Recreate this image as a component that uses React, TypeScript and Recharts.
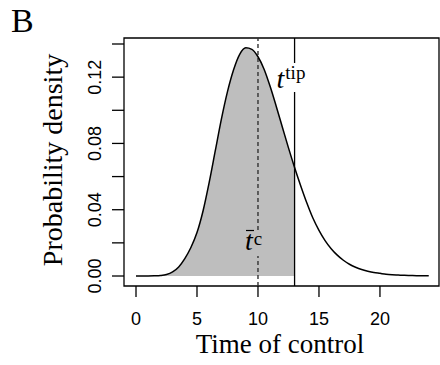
import React from 'react';
import {
  ComposedChart,
  Line,
  Area,
  XAxis,
  YAxis,
  ReferenceLine,
  ReferenceArea,
  Customized,
} from 'recharts';

// ---- data ----
const timeValues = [
  0, 0.5, 1, 1.5, 2, 2.5, 3, 3.5, 4, 4.5, 5, 5.5, 6, 6.5, 7, 7.5, 8, 8.5, 9, 9.5,
  10, 10.5, 11, 11.5, 12, 12.5, 13, 13.5, 14, 14.5, 15, 15.5, 16, 16.5, 17, 17.5,
  18, 18.5, 19, 19.5, 20, 20.5, 21, 21.5, 22, 22.5, 23, 23.5, 24,
];
const densityValues = [
  0, 0, 0, 0.0001, 0.0003, 0.0009, 0.0025, 0.0055, 0.0105, 0.0172, 0.0262, 0.0394,
  0.0565, 0.0756, 0.0947, 0.1113, 0.1245, 0.1338, 0.1377, 0.1368, 0.1323, 0.1248,
  0.1143, 0.1023, 0.0898, 0.0773, 0.0655, 0.0545, 0.0442, 0.035, 0.0276, 0.0214,
  0.0165, 0.0126, 0.0095, 0.0071, 0.0053, 0.0039, 0.0029, 0.0021, 0.0016, 0.0011,
  0.0008, 0.0006, 0.0004, 0.0003, 0.0002, 0.0002, 0.0001,
];
const tipTime = 13; // t^tip
const meanControlTime = 10; // t-bar^c
const xTicks = [0, 5, 10, 15, 20];
const yTicks = [0, 0.02, 0.04, 0.06, 0.08, 0.1, 0.12, 0.14];
const yLabelTicks = [0, 0.04, 0.08, 0.12];
const xDomain = [-0.984, 24.84];
const yDomain = [-0.00603, 0.14362];

const data = timeValues.map((t, i) => ({
  t,
  density: densityValues[i],
  shade: t <= tipTime ? densityValues[i] : null,
}));

const SANS = 'Liberation Sans, Arial, Helvetica, sans-serif';
const SERIF = 'Liberation Serif, Times New Roman, serif';

const XTick = (props: any) => {
  const { x, y, payload } = props;
  return (
    <text x={x} y={y + 26} textAnchor="middle" fontFamily={SANS} fontSize={18} fill="#000">
      {payload.value}
    </text>
  );
};

const YTick = (props: any) => {
  const { x, y, payload } = props;
  const show = yLabelTicks.some((v) => Math.abs(v - payload.value) < 1e-9);
  if (!show) return <g />;
  const bx = x - 9;
  return (
    <text
      transform={`translate(${bx},${y}) rotate(-90)`}
      textAnchor="middle"
      fontFamily={SANS}
      fontSize={18}
      fill="#000"
    >
      {Number(payload.value).toFixed(2)}
    </text>
  );
};

const TipLabel = (props: any) => {
  const vb = props.viewBox || {};
  const lx = vb.x;
  return (
    <g>
      <rect x={lx - 6} y={63} width={12} height={29} fill="#fff" />
      <text x={lx - 18} y={88} fontFamily={SERIF} fill="#000">
        <tspan fontStyle="italic" fontSize={28}>t</tspan>
        <tspan fontSize={19} dx={1} dy={-9}>tip</tspan>
      </text>
    </g>
  );
};

const MeanLabel = (props: any) => {
  const vb = props.viewBox || {};
  const lx = vb.x;
  return (
    <g>
      <rect x={lx - 4} y={232} width={8} height={24} fill="#bebebe" />
      <line x1={lx - 12} x2={lx - 4} y1={230.5} y2={230.5} stroke="#000" strokeWidth={1.2} />
      <text x={lx - 13} y={250} fontFamily={SERIF} fill="#000">
        <tspan fontStyle="italic" fontSize={28}>t</tspan>
        <tspan fontSize={19} dx={1} dy={-5}>c</tspan>
      </text>
    </g>
  );
};

const Titles = () => (
  <g>
    <text x={11} y={32} fontFamily={SERIF} fontSize={34} fill="#000">
      B
    </text>
    <text x={280} y={353} textAnchor="middle" fontFamily={SERIF} fontSize={27} fill="#000">
      Time of control
    </text>
    <text
      transform="translate(62,160) rotate(-90)"
      textAnchor="middle"
      fontFamily={SERIF}
      fontSize={28}
      fill="#000"
    >
      Probability density
    </text>
  </g>
);

export default function App() {
  return (
    <div style={{ position: 'absolute', left: 0, top: 0, background: '#fff' }}>
      <ComposedChart
        width={440}
        height={365}
        data={data}
        margin={{ top: 38, right: 1, bottom: 0, left: 0 }}
      >
        <XAxis
          dataKey="t"
          type="number"
          domain={xDomain}
          ticks={xTicks}
          interval={0}
          allowDataOverflow
          axisLine={false}
          tickSize={11}
          tickLine={{ stroke: '#000', strokeWidth: 1.3 }}
          height={79}
          tick={<XTick />}
        />
        <YAxis
          type="number"
          domain={yDomain}
          ticks={yTicks}
          interval={0}
          allowDataOverflow
          axisLine={false}
          tickSize={12}
          tickLine={{ stroke: '#000', strokeWidth: 1.3 }}
          width={124}
          tick={<YTick />}
        />
        <Area
          dataKey="shade"
          type="monotone"
          fill="#bebebe"
          fillOpacity={1}
          stroke="none"
          isAnimationActive={false}
          activeDot={false}
        />
        <ReferenceLine
          x={meanControlTime}
          stroke="#333"
          strokeWidth={1.4}
          strokeDasharray="4 3"
          label={<MeanLabel />}
        />
        <ReferenceLine x={tipTime} stroke="#000" strokeWidth={1.3} label={<TipLabel />} />
        <Line
          dataKey="density"
          type="monotone"
          stroke="#000"
          strokeWidth={1.5}
          dot={false}
          activeDot={false}
          isAnimationActive={false}
        />
        <ReferenceArea
          x1={xDomain[0]}
          x2={xDomain[1]}
          y1={yDomain[0]}
          y2={yDomain[1]}
          fill="none"
          stroke="#000"
          strokeWidth={1.3}
          ifOverflow="visible"
        />
        <Customized component={Titles} />
      </ComposedChart>
    </div>
  );
}
